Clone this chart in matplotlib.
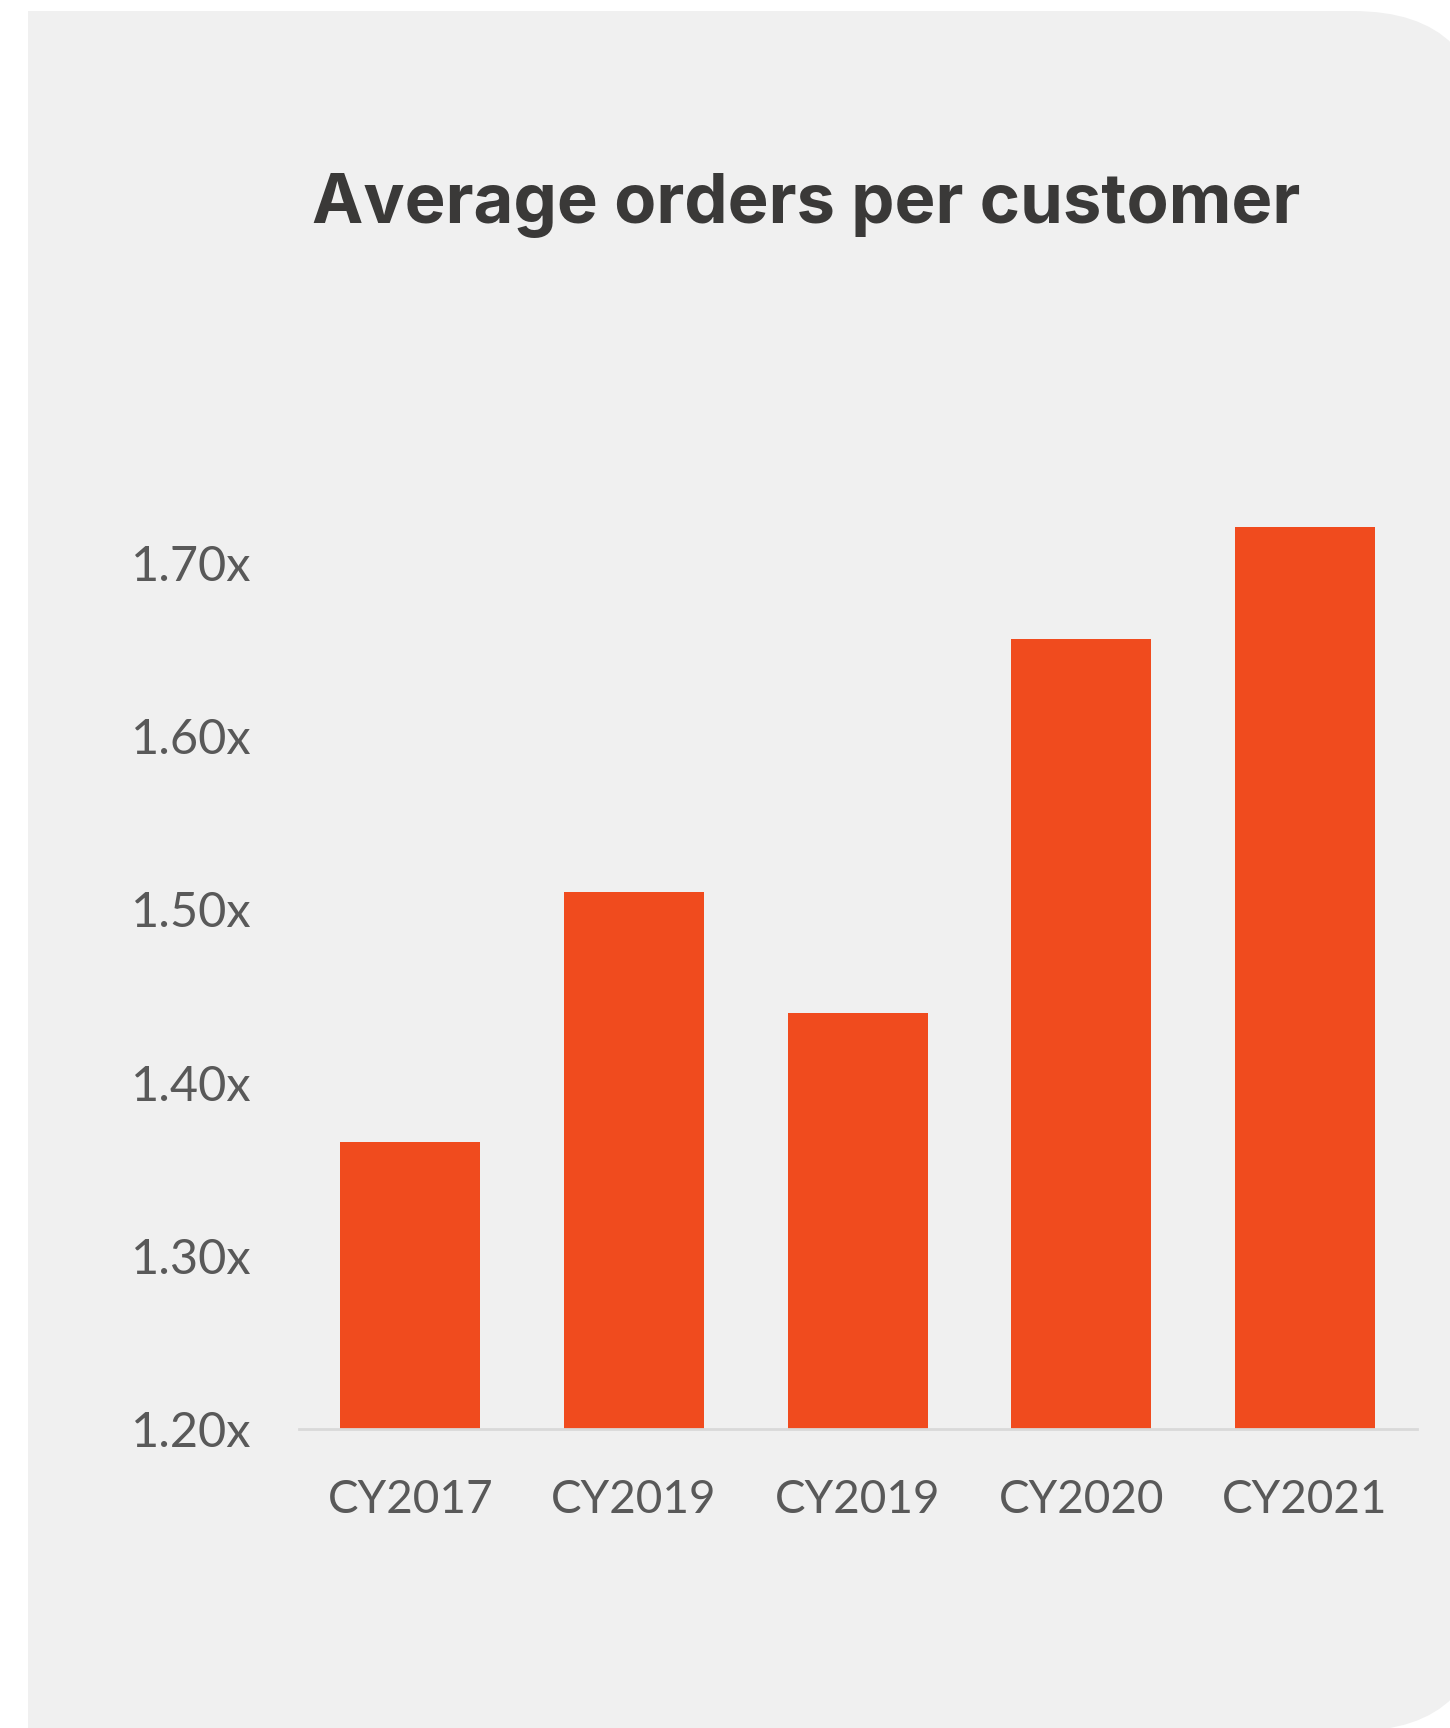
import matplotlib.pyplot as plt
from matplotlib.patches import FancyBboxPatch, Rectangle

# data
categories = ['CY2017', 'CY2019', 'CY2019', 'CY2020', 'CY2021']
orders = [1.366, 1.510, 1.440, 1.656, 1.721]
yticks = [1.20, 1.30, 1.40, 1.50, 1.60, 1.70]

W, H = 1450, 1728
fig = plt.figure(figsize=(W / 100, H / 100), dpi=100, facecolor='white')

# grey card with rounded right corners
bg = '#f0f0f0'
r = 133 / W
fig.patches.append(FancyBboxPatch((28 / W, -3 / H), (1486 - 28) / W, (1731 - 11) / H,
                                  boxstyle='round,pad=0,rounding_size=%f' % r,
                                  mutation_aspect=W / H, transform=fig.transFigure,
                                  facecolor=bg, edgecolor='none', zorder=-10))
fig.patches.append(Rectangle((28 / W, -3 / H), 700 / W, (1731 - 11) / H,
                             transform=fig.transFigure, facecolor=bg,
                             edgecolor='none', zorder=-9))

ax = fig.add_axes([298.6 / W, 1 - 1429 / H, 1118 / W, (1429 - 390) / H])
ax.set_facecolor('none')

x = range(len(categories))
ax.bar(x, orders, width=0.626, color='#f04b1e', bottom=0)
ax.set_xlim(-0.5, 4.5)
ax.set_ylim(1.2, 1.8)

for s in ['top', 'right', 'left']:
    ax.spines[s].set_visible(False)
ax.spines['bottom'].set_color('#d9d9d9')
ax.spines['bottom'].set_linewidth(2)

ax.set_yticks(yticks)
ax.set_yticklabels(['%.2fx' % v for v in yticks])
ax.set_xticks(list(x))
ax.set_xticklabels(categories)
ax.tick_params(axis='both', length=0, labelcolor='#595959')
ax.tick_params(axis='y', pad=34, labelsize=35)
ax.tick_params(axis='x', pad=36, labelsize=33)
for lab in ax.get_xticklabels() + ax.get_yticklabels():
    lab.set_fontfamily('Lato')

fig.text(806 / W, 1 - 205 / H, 'Average orders per customer', ha='center', va='center',
         fontsize=49.5, fontweight='bold', color='#3a3938', family='Inter')

fig.savefig('out.png', dpi=100, facecolor='white')
